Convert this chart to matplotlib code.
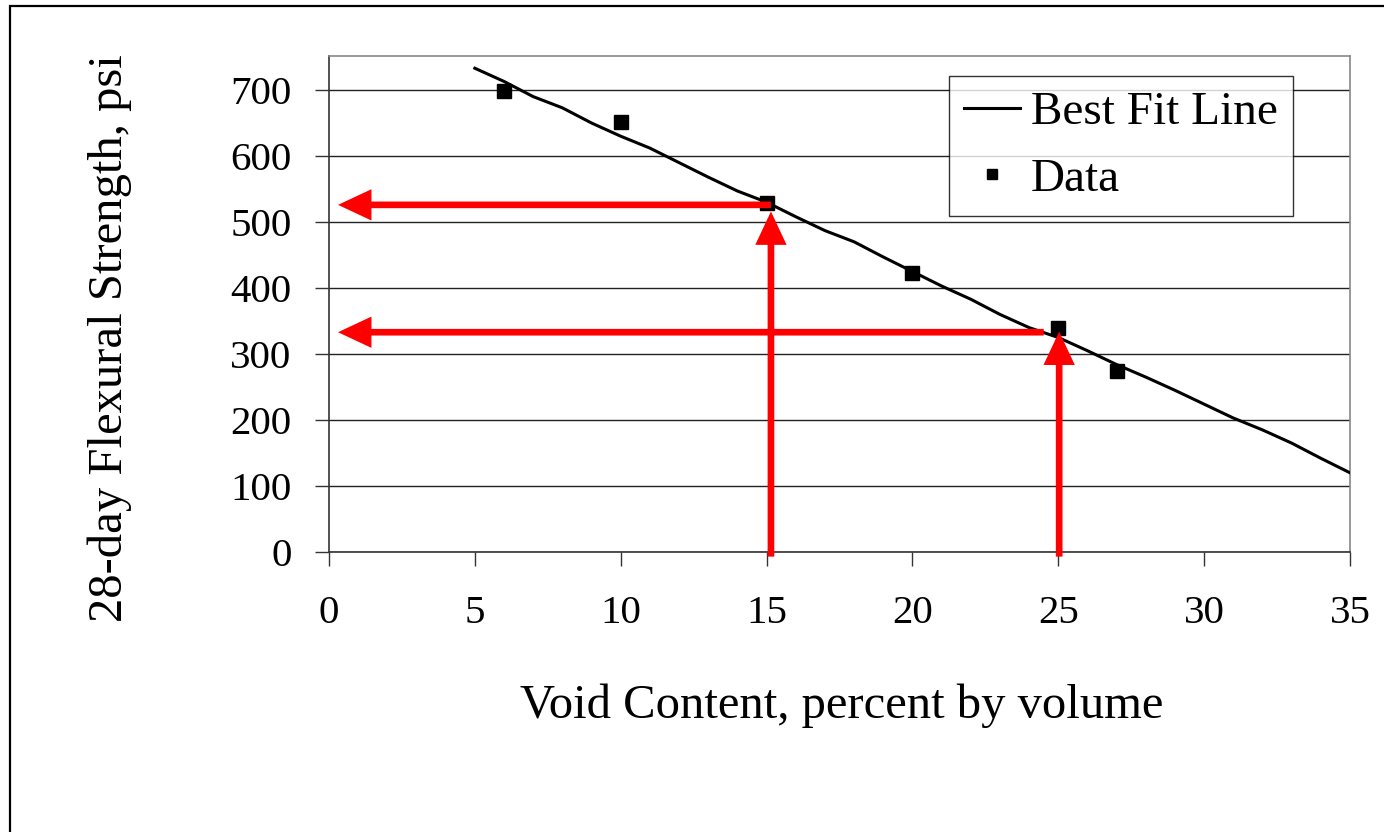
import matplotlib
matplotlib.use("Agg")
import matplotlib.pyplot as plt
from matplotlib.patches import FancyArrowPatch, Rectangle

# Data
data_x = [6, 10, 15, 20, 25, 27]
data_y = [698, 652, 529, 423, 339, 274]

fit_x = [5, 6, 7, 8, 9, 10, 11, 12, 13, 14, 15, 16, 17, 18, 19, 20, 21, 22, 23,
         24, 25, 26, 27, 28, 29, 30, 31, 32, 33, 34, 35]
fit_y = [733, 713, 690, 673, 650, 630, 612, 590, 568, 547, 530, 508, 487, 470,
         447, 425, 403, 383, 360, 340, 325, 305, 284, 265, 245, 224, 203, 185,
         165, 142, 120]

# Annotation arrows (tail -> tip), in data units
arrows = [
    ((15.15, 526), (0.31, 526)),
    ((15.15, -7), (15.15, 516)),
    ((24.5, 333), (0.31, 333)),
    ((25.03, -7), (25.03, 334)),
]

x_ticks = [0, 5, 10, 15, 20, 25, 30, 35]
y_ticks = [0, 100, 200, 300, 400, 500, 600, 700]

plt.rcParams['font.family'] = ['Liberation Serif', 'DejaVu Serif']

W, H = 1384, 832
fig = plt.figure(figsize=(W / 100, H / 100), dpi=100)
fig.patch.set_facecolor('white')

# outer frame
frame = Rectangle((10 / W, -0.1), 1.2, 1 - 6 / H + 0.1, transform=fig.transFigure,
                  fill=False, edgecolor='black', linewidth=1.6, clip_on=False)
fig.patches.append(frame)

ax = fig.add_axes([329 / W, 1 - 552 / H, (1350 - 329) / W, (552 - 55.7) / H])
ax.set_xlim(0, 35)
ax.set_ylim(0, 752)

ax.set_xticks(x_ticks)
ax.set_yticks(y_ticks)
ax.tick_params(axis='both', labelsize=29.5, length=10, width=1.0, color='#333333')
ax.tick_params(axis='x', pad=21)
ax.tick_params(axis='y', pad=17)

ax.yaxis.grid(True, color='#222222', linewidth=1.0)
ax.set_axisbelow(True)

for side in ['top', 'right']:
    ax.spines[side].set_color('#888888')
    ax.spines[side].set_linewidth(1.2)
for side in ['left', 'bottom']:
    ax.spines[side].set_color('#333333')
    ax.spines[side].set_linewidth(1.2)

ax.plot(fit_x, fit_y, color='black', linewidth=2.2, label='Best Fit Line',
        zorder=3)
ax.plot(data_x, data_y, linestyle='none', marker='s', markersize=9.5,
        color='black', label='Data', zorder=4)

for (tail, tip) in arrows:
    arr = FancyArrowPatch(tail, tip, arrowstyle='-|>,head_length=1.6,head_width=0.75',
                          mutation_scale=10, color='#ff0000', linewidth=4.8,
                          shrinkA=0, shrinkB=0, clip_on=False, zorder=5,
                          joinstyle='miter', capstyle='butt')
    ax.add_patch(arr)

leg = ax.legend(loc='upper right', bbox_to_anchor=(0.944, 0.959), borderaxespad=0,
                fontsize=34, frameon=True, fancybox=False, edgecolor='black',
                handlelength=1.2, handletextpad=0.22, borderpad=0.32,
                labelspacing=0.5, markerscale=0.75)
leg.get_frame().set_linewidth(1.0)

fig.text(842 / W, 1 - 718 / H, 'Void Content, percent by volume', ha='center',
         va='baseline', fontsize=35)
fig.text(110 / W, 1 - 338 / H, '28-day Flexural Strength, psi', ha='center',
         va='center', rotation=90, fontsize=35)

fig.savefig('out.png', dpi=100, facecolor='white')
